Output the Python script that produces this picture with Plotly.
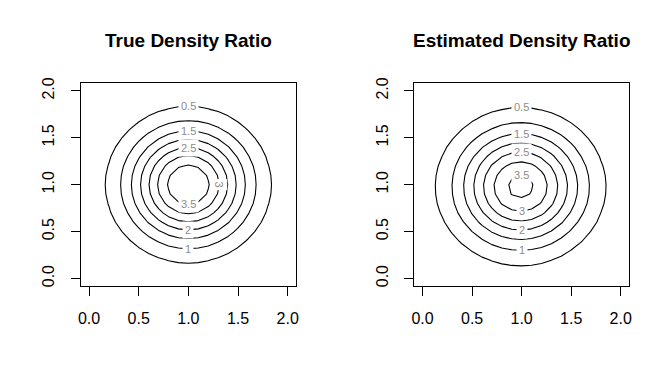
import numpy as np
import plotly.graph_objects as go

# ---- data ----
grid_x = [round(0.1 * i, 1) for i in range(21)]   # evaluation grid 0.0 .. 2.0
grid_y = [round(0.1 * i, 1) for i in range(21)]
contour_levels = [0.5, 1.0, 1.5, 2.0, 2.5, 3.0, 3.5]
level_labels = ["0.5", "1", "1.5", "2", "2.5", "3", "3.5"]
tick_vals = [0.0, 0.5, 1.0, 1.5, 2.0]
tick_text = ["0.0", "0.5", "1.0", "1.5", "2.0"]
panel_titles = ["True Density Ratio", "Estimated Density Ratio"]
label_sides = [
    ["top", "bottom", "top", "bottom", "top", "right", "bottom"],
    ["top", "bottom", "top", "bottom", "top", "bottom", "top"],
]

# true model: numerator N((1,1), 1/8 I), denominator N((1,1), 1/2 I)
true_mean = [1.0, 1.0]
var_nu = 1 / 8
var_de = 1 / 2
# estimated ratio (fitted surface, parameters)
est_peak = 3.66
est_center = [0.99, 0.98]
est_width2 = [0.37, 0.355]   # 2*sigma^2 in x and y

gx = np.array(grid_x)
gy = np.array(grid_y)
X, Y = np.meshgrid(gx, gy)


def npdf(x, y, m, v):
    return np.exp(-((x - m[0]) ** 2 + (y - m[1]) ** 2) / (2 * v)) / (2 * np.pi * v)


z_true = npdf(X, Y, true_mean, var_nu) / npdf(X, Y, true_mean, var_de)
z_est = est_peak * np.exp(-((X - est_center[0]) ** 2) / est_width2[0]
                          - ((Y - est_center[1]) ** 2) / est_width2[1])


def crossing(coords, vals, level, outward):
    """linear interpolation of where vals crosses level, searching from the peak outward"""
    k = int(np.argmax(vals))
    rng = range(k, len(vals) - 1) if outward > 0 else range(k, 0, -1)
    for i in rng:
        j = i + outward
        if (vals[i] - level) * (vals[j] - level) <= 0:
            t = (vals[i] - level) / (vals[i] - vals[j])
            return coords[i] + t * (coords[j] - coords[i])
    return None


def label_pos(z, level, side):
    ic = int(np.argmin(np.abs(gx - 1.0)))
    if side in ("top", "bottom"):
        col = z[:, ic]
        yv = crossing(gy, col, level, 1 if side == "top" else -1)
        return gx[ic], yv, 0
    row = z[ic, :]
    xv = crossing(gx, row, level, 1 if side == "right" else -1)
    return xv, gy[ic], 90


FONT = "Liberation Sans, Arial, sans-serif"
OFF_X, OFF_Y = 8, 8          # page body margin
W, H = 672 - 2 * OFF_X, 384 - 2 * OFF_Y

fig = go.Figure()
for i, z in enumerate([z_true, z_est]):
    xa = "x" if i == 0 else "x2"
    ya = "y" if i == 0 else "y2"
    fig.add_trace(go.Contour(
        x=grid_x, y=grid_y, z=z, xaxis=xa, yaxis=ya,
        contours=dict(coloring="lines", start=contour_levels[0], end=contour_levels[-1],
                      size=0.5, showlabels=False),
        colorscale=[[0, "black"], [1, "black"]],
        line=dict(width=1.1, smoothing=0),
        showscale=False, hoverinfo="skip",
    ))
    for lev, lab, side in zip(contour_levels, level_labels, label_sides[i]):
        lx, ly, ang = label_pos(z, lev, side)
        fig.add_annotation(x=lx, y=ly, xref=xa, yref=ya, text=lab, showarrow=False,
                           textangle=ang, bgcolor="white", borderpad=2,
                           font=dict(family=FONT, size=11, color="#8c8c8c"))

ax = dict(range=[-0.084, 2.084], tickvals=tick_vals, ticktext=tick_text,
          showline=True, linecolor="black", linewidth=1, mirror=True,
          ticks="outside", ticklen=9, tickcolor="black", tickwidth=1,
          showgrid=False, zeroline=False,
          tickfont=dict(family=FONT, size=16, color="black"))

x_dom = [[(78.3 - OFF_X) / W, (295.7 - OFF_X) / W], [(415 - OFF_X) / W, (631.7 - OFF_X) / W]]
y_dom = [1 - (285.7 - OFF_Y) / H, 1 - (78.3 - OFF_Y) / H]

fig.update_layout(
    width=W, height=H, margin=dict(l=0, r=0, t=0, b=0),
    paper_bgcolor="white", plot_bgcolor="white", showlegend=False,
    xaxis=dict(ax, domain=x_dom[0], anchor="y", ticklabelstandoff=8),
    yaxis=dict(ax, domain=y_dom, anchor="x", tickangle=-90, ticklabelstandoff=10),
    xaxis2=dict(ax, domain=x_dom[1], anchor="y2", ticklabelstandoff=8),
    yaxis2=dict(ax, domain=y_dom, anchor="x2", tickangle=-90, ticklabelstandoff=10),
)

for i, t in enumerate(panel_titles):
    fig.add_annotation(text="<b>%s</b>" % t, xref="paper", yref="paper",
                       x=sum(x_dom[i]) / 2, y=1 - (35 - OFF_Y) / H,
                       xanchor="center", yanchor="middle",
                       showarrow=False, font=dict(family=FONT, size=19, color="black"))

fig.write_html("out.html")
